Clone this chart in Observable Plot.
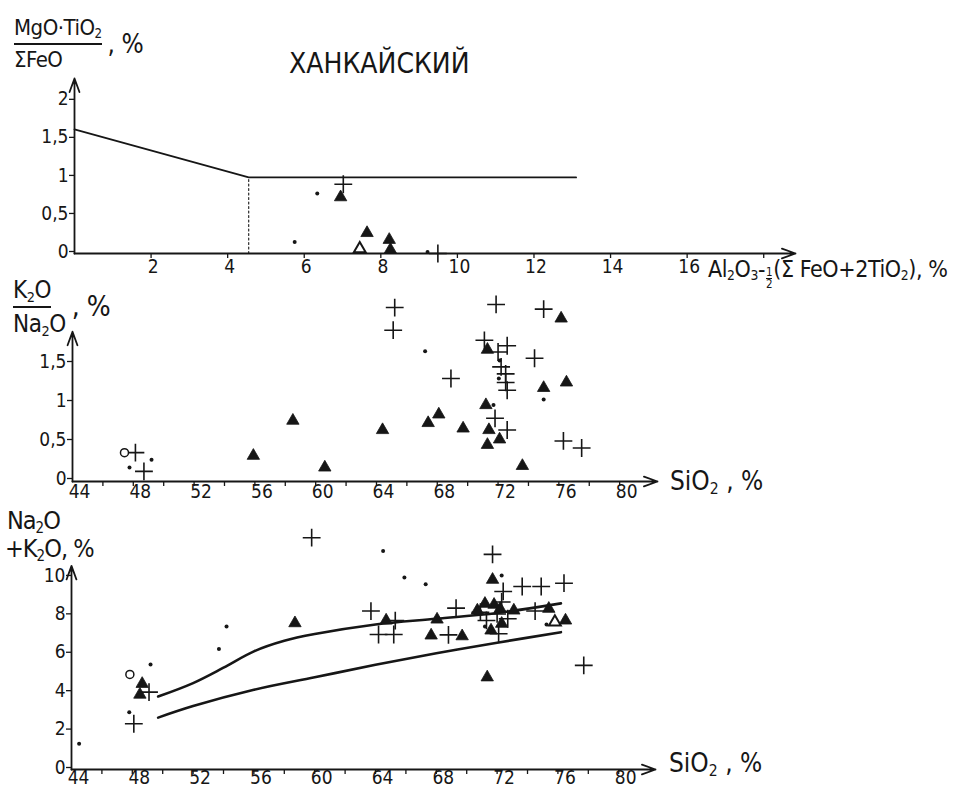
<!DOCTYPE html>
<html>
<head>
<meta charset="utf-8">
<script src="https://cdn.jsdelivr.net/npm/d3@7"></script>
<script src="https://cdn.jsdelivr.net/npm/@observablehq/plot@0.6"></script>
<style>
  html, body { margin: 0; padding: 0; background: #fff; }
  #wrap { position: relative; width: 972px; height: 795px; background: #fff; overflow: hidden;
          font-family: 'DejaVu Sans Condensed', 'DejaVu Sans', sans-serif; color: #161616; }
  .panel { position: absolute; left: 0; }
  .lbl { position: absolute; white-space: nowrap; line-height: 1; }
  .frac { position: absolute; display: flex; align-items: center; line-height: 1; white-space: nowrap; }
  .frac .fr { display: inline-flex; flex-direction: column; align-items: flex-start; }
  .frac .num { border-bottom: 2px solid #161616; padding-bottom: 4px; }
  .frac .den { padding-top: 4px; }
  sub { font-size: 0.6em; vertical-align: -0.25em; line-height: 0; }
  .half { display: inline-flex; flex-direction: column; font-size: 0.5em; line-height: 1; vertical-align: 0.1em; text-align: center; margin: 0 1px; }
  .half span:first-child { border-bottom: 1px solid #161616; }
</style>
</head>
<body>
<div id="wrap"></div>
<script>
// ---------------- DATA ----------------
// Top panel: x = Al2O3 - 1/2(ΣFeO + 2TiO2), y = MgO·TiO2 / ΣFeO
const topTitle = "ХАНКАЙСКИЙ";
const topXDomain = [0, 18.83];
const topYDomain = [0, 2.3];
const topXTicks = [2, 4, 6, 8, 10, 12, 14, 16, 18];
const topXLabeled = [2, 4, 6, 8, 10, 12, 14, 16];
const topYTicks = [0, 0.5, 1, 1.5, 2];
const topBoundary = [[0, 1.63], [4.55, 1], [13.1, 1]];
const topDivider = [[4.55, 0], [4.55, 1]];
const topTriangles = [[6.95, 0.74], [7.64, 0.27], [8.22, 0.18], [8.25, 0.05]];
const topOpenTriangles = [[7.45, 0.06]];
const topCrosses = [[7.02, 0.91], [9.49, 0.0]];
const topDots = [[6.34, 0.79], [5.75, 0.15], [9.22, 0.02]];

// Middle panel: x = SiO2, y = K2O / Na2O
const midXDomain = [44, 82.49];
const midYDomain = [0, 2.35];
const midYArrowTop = 1.92;
const midXTicks = [46, 48, 50, 52, 54, 56, 58, 60, 62, 64, 66, 68, 70, 72, 74, 76, 78, 80];
const midXLabeled = [44, 48, 52, 56, 60, 64, 68, 72, 76, 80];
const midYTicks = [0, 0.5, 1, 1.5];
const midTriangles = [[55.9, 0.33], [58.5, 0.78], [60.6, 0.18], [64.4, 0.66], [67.4, 0.75], [68.1, 0.86],
  [69.7, 0.68], [71.3, 1.69], [76.15, 2.09], [75.0, 1.2], [76.5, 1.27], [71.2, 0.98], [71.4, 0.66],
  [72.1, 0.54], [71.3, 0.47], [73.6, 0.2]];
const midCrosses = [[48.14, 0.37], [48.7, 0.13], [65.2, 2.23], [65.1, 1.94], [68.9, 1.32], [71.87, 2.27],
  [75.0, 2.21], [71.1, 1.81], [72.6, 1.74], [72.0, 1.66], [72.2, 1.47], [72.5, 1.38], [72.5, 1.27],
  [72.6, 1.17], [74.4, 1.58], [71.8, 0.81], [72.6, 0.66], [76.3, 0.52], [77.5, 0.43]];
const midDots = [[47.75, 0.18], [49.2, 0.28], [67.2, 1.67], [72.1, 1.55], [72.05, 1.32], [75.0, 1.05], [71.7, 0.98]];
const midCircles = [[47.42, 0.37]];

// Bottom panel: x = SiO2, y = Na2O + K2O
const botXDomain = [44, 82.42];
const botYDomain = [0, 12.6];
const botYArrowTop = 10.6;
const botXTicks = midXTicks;
const botXLabeled = midXLabeled;
const botYTicks = [0, 2, 4, 6, 8, 10];
const upperCurve = [[49.7, 3.8], [52, 4.5], [54, 5.3], [56, 6.15], [58, 6.7], [60, 7.05], [64, 7.55],
  [68, 7.85], [72, 8.15], [76.2, 8.65]];
const lowerCurve = [[49.7, 2.7], [52, 3.3], [56, 4.15], [60, 4.8], [64, 5.45], [68, 6.05], [72, 6.6], [76.2, 7.15]];
const botTriangles = [[48.65, 4.46], [48.5, 3.9], [58.7, 7.62], [64.7, 7.76], [68.05, 7.81], [67.66, 6.98],
  [69.7, 6.94], [70.7, 8.28], [71.2, 8.63], [71.8, 8.58], [72.2, 8.37], [73.1, 8.28], [71.6, 7.24],
  [72.3, 7.59], [71.7, 9.88], [75.4, 8.37], [76.5, 7.76], [71.35, 4.8]];
const botOpenTriangles = [[75.8, 7.67]];
const botCrosses = [[48.1, 2.38], [49.1, 4.03], [59.8, 12.07], [63.7, 8.25], [64.2, 7.03], [65.2, 7.03],
  [65.3, 7.75], [69.3, 8.4], [68.8, 7.01], [71.7, 11.2], [72.4, 9.27], [73.65, 9.53], [74.9, 9.53],
  [76.4, 9.7], [70.9, 8.19], [72.0, 8.1], [72.3, 8.72], [72.7, 7.85], [72.1, 7.07], [71.3, 7.76],
  [74.5, 8.25], [77.7, 5.42]];
const botDots = [[44.5, 1.34], [47.8, 2.98], [49.2, 5.47], [53.7, 6.28], [54.2, 7.45], [64.5, 11.37],
  [65.9, 10.0], [67.3, 9.64], [72.3, 10.1], [71.2, 7.45], [75.25, 7.55]];
const botCircles = [[47.84, 4.95]];

// ---------------- DRAWING ----------------
const INK = "#161616";
const FONT = "'DejaVu Sans Condensed','DejaVu Sans',sans-serif";
const fmt = d => String(d).replace(".", ",");
const X = d => d[0], Y = d => d[1];

function symbolMarks(tri, openTri, crosses, dots, circles) {
  return [
    Plot.dot(crosses, {x: X, y: Y, symbol: "plus", r: 5.8, stroke: INK, strokeWidth: 1.6}),
    Plot.dot(tri, {x: X, y: Y, symbol: "triangle", r: 4.6, fill: INK, stroke: INK, strokeWidth: 0.8}),
    Plot.dot(openTri, {x: X, y: Y, symbol: "triangle", r: 4.4, fill: "#fff", stroke: INK, strokeWidth: 2}),
    Plot.dot(dots, {x: X, y: Y, r: 2, fill: INK}),
    Plot.dot(circles, {x: X, y: Y, r: 4, fill: "#fff", stroke: INK, strokeWidth: 1.5})
  ];
}

function axes(xDomain, yArrowTop, xTicks, xLabeled, yTicks, xOpt, yOpt) {
  const labeledSet = new Set(xLabeled);
  return [
    Plot.axisX(xTicks, {tickSize: 5, tickFormat: () => "", stroke: INK, strokeWidth: 1.3}),
    Plot.axisX(xLabeled, {tickSize: 0, tickPadding: xOpt.pad, dx: xOpt.dx, tickFormat: d => labeledSet.has(d) ? fmt(d) : "", fill: INK, fontSize: 19}),
    Plot.axisY(yTicks, {tickSize: 5, tickPadding: 1, tickFormat: fmt, fill: INK, stroke: INK, strokeWidth: 1.3, fontSize: 19, dy: yOpt.dy}),
    Plot.arrow([0], {x1: () => xDomain[0], x2: () => xDomain[1], y1: () => 0, y2: () => 0,
      stroke: INK, strokeWidth: 1.8, headLength: 12, headAngle: 40}),
    Plot.arrow([0], {x1: () => xDomain[0], x2: () => xDomain[0], y1: () => 0, y2: () => yArrowTop,
      stroke: INK, strokeWidth: 1.8, headLength: 12, headAngle: 40})
  ];
}

const baseStyle = {fontFamily: FONT, fontSize: "19px", color: INK, background: "transparent", overflow: "visible"};

const topPlot = Plot.plot({
  width: 972, height: 285,
  marginLeft: 74, marginRight: 177, marginTop: 78, marginBottom: 32,
  x: {domain: topXDomain}, y: {domain: topYDomain},
  style: baseStyle,
  marks: [
    ...axes(topXDomain, topYDomain[1], topXTicks, topXLabeled, topYTicks, {pad: 6, dx: 2}, {dy: -2}),
    Plot.line(topBoundary, {x: X, y: Y, stroke: INK, strokeWidth: 1.8}),
    Plot.line(topDivider, {x: X, y: Y, stroke: INK, strokeWidth: 1.1, strokeDasharray: "2,2.5"}),
    ...symbolMarks(topTriangles, topOpenTriangles, topCrosses, topDots, [])
  ]
});

const midPlot = Plot.plot({
  width: 972, height: 235,
  marginLeft: 72, marginRight: 315, marginTop: 12.7, marginBottom: 39,
  x: {domain: midXDomain}, y: {domain: midYDomain},
  style: baseStyle,
  marks: [
    ...axes(midXDomain, midYArrowTop, midXTicks, midXLabeled, midYTicks, {pad: 3, dx: 7}, {dy: -3}),
    ...symbolMarks(midTriangles, [], midCrosses, midDots, midCircles)
  ]
});

const botPlot = Plot.plot({
  width: 972, height: 275,
  marginLeft: 71, marginRight: 317, marginTop: 7, marginBottom: 26,
  x: {domain: botXDomain}, y: {domain: botYDomain},
  style: baseStyle,
  marks: [
    ...axes(botXDomain, botYArrowTop, botXTicks, botXLabeled, botYTicks, {pad: 1, dx: 7}, {dy: -2}),
    Plot.line(upperCurve, {x: X, y: Y, stroke: INK, strokeWidth: 2.6, curve: "catmull-rom"}),
    Plot.line(lowerCurve, {x: X, y: Y, stroke: INK, strokeWidth: 2.6, curve: "catmull-rom"}),
    ...symbolMarks(botTriangles, botOpenTriangles, botCrosses, botDots, botCircles)
  ]
});

const wrap = document.getElementById("wrap");
function place(node, top) {
  const d = document.createElement("div");
  d.className = "panel";
  d.style.top = top + "px";
  d.appendChild(node);
  wrap.appendChild(d);
}
place(topPlot, 0);
place(midPlot, 285);
place(botPlot, 520);

function label(html, left, top, size, extra) {
  const s = document.createElement("div");
  s.className = "lbl";
  s.style.left = left + "px";
  s.style.top = top + "px";
  s.style.fontSize = size + "px";
  if (extra) Object.assign(s.style, extra);
  s.innerHTML = html;
  wrap.appendChild(s);
}
function frac(num, den, suffix, left, top, size, suffixSize) {
  const s = document.createElement("div");
  s.className = "frac";
  s.style.left = left + "px";
  s.style.top = top + "px";
  s.style.fontSize = size + "px";
  s.style.letterSpacing = "-0.5px";
  s.innerHTML = `<span class="fr"><span class="num">${num}</span><span class="den">${den}</span></span><span style="margin-left:6px;font-size:${suffixSize}px">${suffix}</span>`;
  wrap.appendChild(s);
}

label(topTitle, 289, 50, 28);
frac("MgO·TiO<sub>2</sub>", "ΣFeO", ", %", 14, 17, 22, 26);
label("Al<sub>2</sub>O<sub>3</sub>-<span class=\"half\"><span>1</span><span>2</span></span>(Σ FeO+2TiO<sub>2</sub>), %", 708, 258, 23, {letterSpacing: "-0.4px"});
frac("K<sub>2</sub>O", "Na<sub>2</sub>O", ", %", 13, 278, 24, 28);
label("SiO<sub>2</sub> , %", 670, 468, 26);
label("Na<sub>2</sub>O", 7, 508, 25, {letterSpacing: "-1px"});
label("+K<sub>2</sub>O, %", 5, 536, 25, {letterSpacing: "-1px"});
label("SiO<sub>2</sub> , %", 669, 750, 26);
</script>
</body>
</html>
